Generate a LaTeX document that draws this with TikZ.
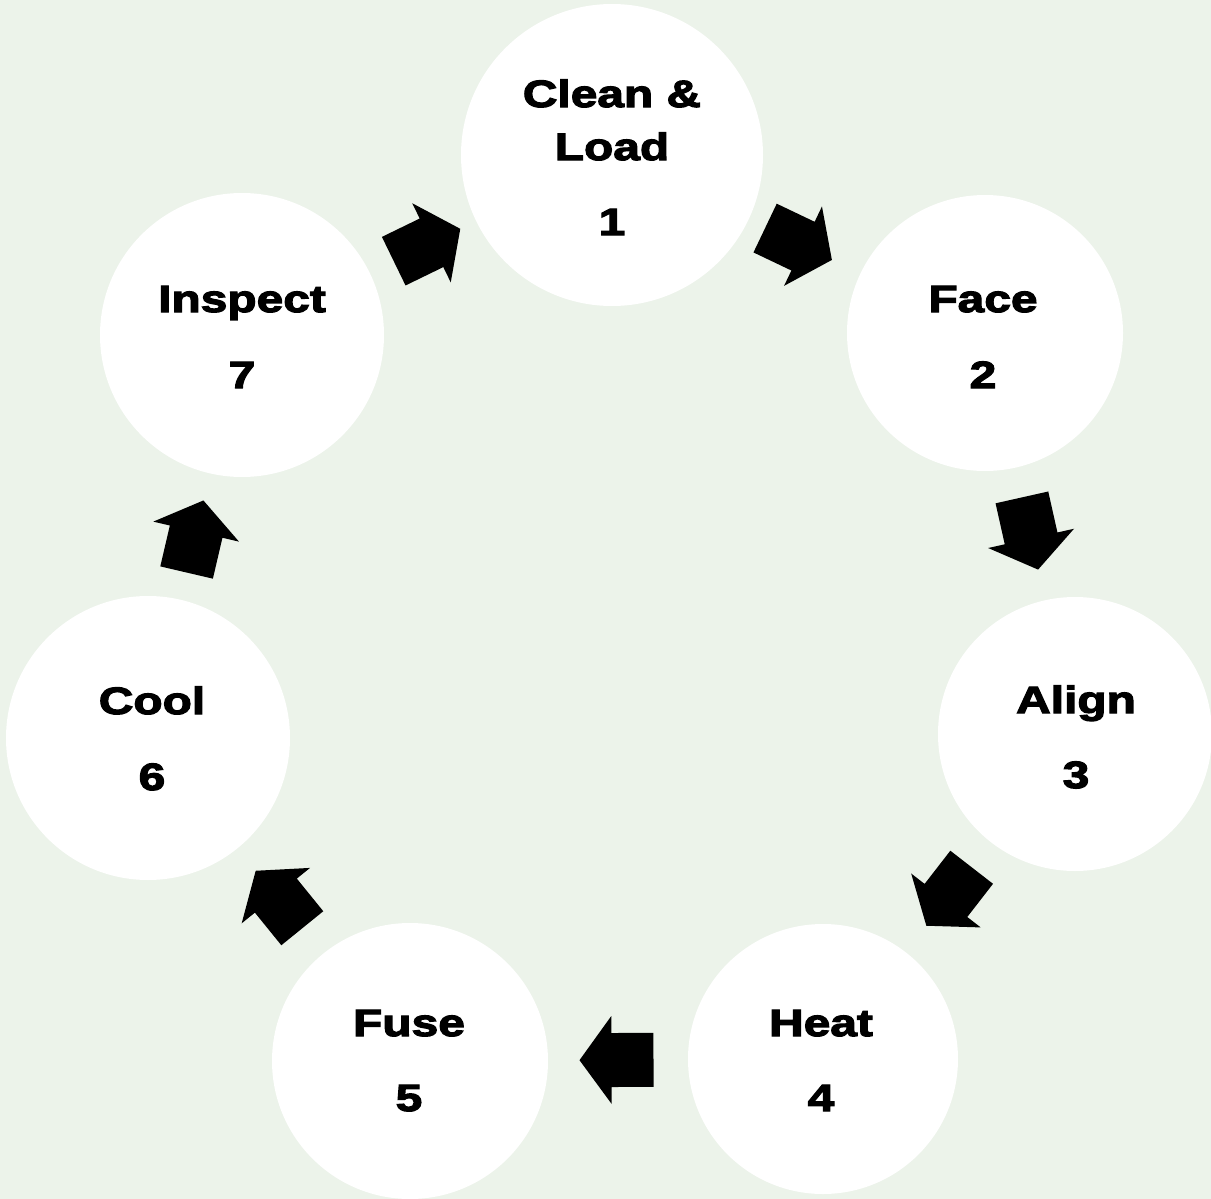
\documentclass[tikz,border=0pt]{standalone}
\usepackage{fontspec}
\usetikzlibrary{calc}
\newfontfamily\lblfont{Liberation Sans Bold}[FakeStretch=1.26,FakeBold=3.2]
\definecolor{bgcol}{RGB}{236,243,234}
\tikzset{
  stepcircle/.style={circle, fill=white, draw=none, inner sep=0pt},
  lbl/.style={font=\lblfont\fontsize{38}{40}\selectfont, text=black, anchor=base, inner sep=0pt},
  pics/blockarrow/.style={code={
    \fill[black] (-37pt,-27pt) -- (5pt,-27pt) -- (5pt,-44pt) -- (37pt,0pt)
      -- (5pt,44pt) -- (5pt,27pt) -- (-37pt,27pt) -- cycle;}}
}
\begin{document}
\begin{tikzpicture}[x=1pt,y=-1pt]
\useasboundingbox (0,0) rectangle (1211,1199);
\fill[bgcol] (0,0) rectangle (1211,1199);
% circles
\node[stepcircle, minimum size=302pt] (c1) at (612,155) {};
\node[stepcircle, minimum size=276pt] (c2) at (985,333) {};
\node[stepcircle, minimum size=274pt] (c3) at (1075,734) {};
\node[stepcircle, minimum size=270pt] (c4) at (823,1059) {};
\node[stepcircle, minimum size=276pt] (c5) at (410,1061) {};
\node[stepcircle, minimum size=284pt] (c6) at (148,738) {};
\node[stepcircle, minimum size=284pt] (c7) at (242,335) {};
% labels
\node[lbl] (t1a) at (612,107) {Clean \&};
\node[lbl] (t1b) at (612,160) {Load};
\node[lbl] (n1) at (612,235) {1};
\node[lbl] (t2) at (983,312) {Face};
\node[lbl] (n2) at (983,388) {2};
\node[lbl] (t3) at (1076,713) {Align};
\node[lbl] (n3) at (1076,788) {3};
\node[lbl] (t4) at (821,1036) {Heat};
\node[lbl] (n4) at (821,1111) {4};
\node[lbl] (t5) at (409,1036) {Fuse};
\node[lbl] (n5) at (409,1111) {5};
\node[lbl] (t6) at (152,714) {Cool};
\node[lbl] (n6) at (152,790) {6};
\node[lbl] (t7) at (242,312) {Inspect};
\node[lbl] (n7) at (242,388) {7};
% arrows
\foreach \a/\b in {c1/c2,c2/c3,c3/c4,c4/c5,c5/c6,c6/c7,c7/c1}{
  \path let \p1=($(\b)-(\a)$), \n1={atan2(\y1,\x1)} in
    pic[rotate=\n1] at ($(\a)!0.5!(\b)$) {blockarrow};
}
\end{tikzpicture}
\end{document}
